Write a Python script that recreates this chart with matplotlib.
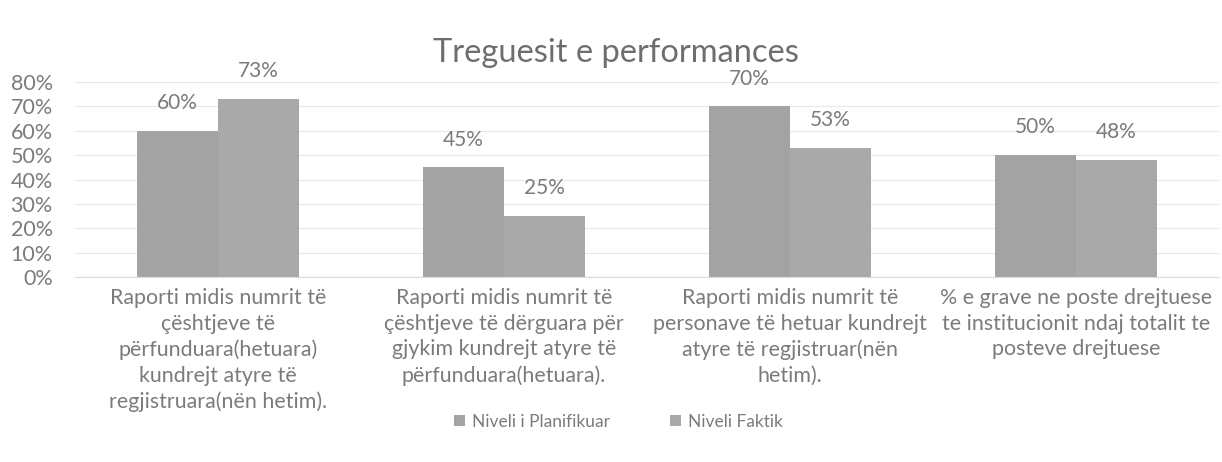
import matplotlib.pyplot as plt
import numpy as np
from matplotlib.ticker import PercentFormatter

plt.rcParams['font.family'] = ['Lato', 'DejaVu Sans']

categories = [
    "Raporti midis numrit të\nçështjeve të\npërfunduara(hetuara)\nkundrejt atyre të\nregjistruara(nën hetim).",
    "Raporti midis numrit të\nçështjeve të dërguara për\ngjykim kundrejt atyre të\npërfunduara(hetuara).",
    "Raporti midis numrit të\npersonave të hetuar kundrejt\natyre të regjistruar(nën\nhetim).",
    "% e grave ne poste drejtuese\nte institucionit ndaj totalit te\nposteve drejtuese",
]
planned = [60, 45, 70, 50]
actual = [73, 25, 53, 48]
series_names = ["Niveli i Planifikuar", "Niveli Faktik"]

text_col = '#7b7b7b'
x = np.arange(len(categories))
w = 0.283

fig = plt.figure(figsize=(12.22, 4.62), dpi=100)
ax = fig.add_axes([0.0614, 0.4004, 0.936, 0.4221])

b1 = ax.bar(x - w/2, planned, w, color='#a3a3a3', label=series_names[0], zorder=2)
b2 = ax.bar(x + w/2, actual, w, color='#a9a9a9', label=series_names[1], zorder=2)

for bars, vals in ((b1, planned), (b2, actual)):
    for r, v in zip(bars, vals):
        ax.annotate(f"{v}%", (r.get_x() + r.get_width()/2, v), xytext=(0, 20),
                    textcoords='offset points', ha='center', va='center',
                    fontsize=15, color=text_col)

ax.set_ylim(0, 80)
ax.set_xlim(-0.5, len(categories) - 0.5)
ax.set_yticks(range(0, 81, 10))
ax.yaxis.set_major_formatter(PercentFormatter(decimals=0))
ax.grid(axis='y', color='#e8e8e8', linewidth=0.8, zorder=0)
for s in ['top', 'right', 'left']:
    ax.spines[s].set_visible(False)
ax.spines['bottom'].set_color('#dcdcdc')
ax.tick_params(axis='y', length=0, labelsize=15.5, labelcolor=text_col, pad=16)
ax.tick_params(axis='x', length=0, pad=8)
ax.set_xticks(x)
ax.set_xticklabels(categories, fontsize=15.4, color=text_col, linespacing=1.35)

fig.text(0.504, 0.885, "Treguesit e performances", ha='center', va='center',
         fontsize=23.5, color='#6e6e6e')

fig.legend(handles=[b1, b2], loc='center', bbox_to_anchor=(0.506, 0.087), ncol=2,
           frameon=False, fontsize=12.5, labelcolor=text_col, handlelength=0.6,
           handleheight=0.6, columnspacing=3.5, handletextpad=0.4)

fig.savefig('out.png', dpi=100)
